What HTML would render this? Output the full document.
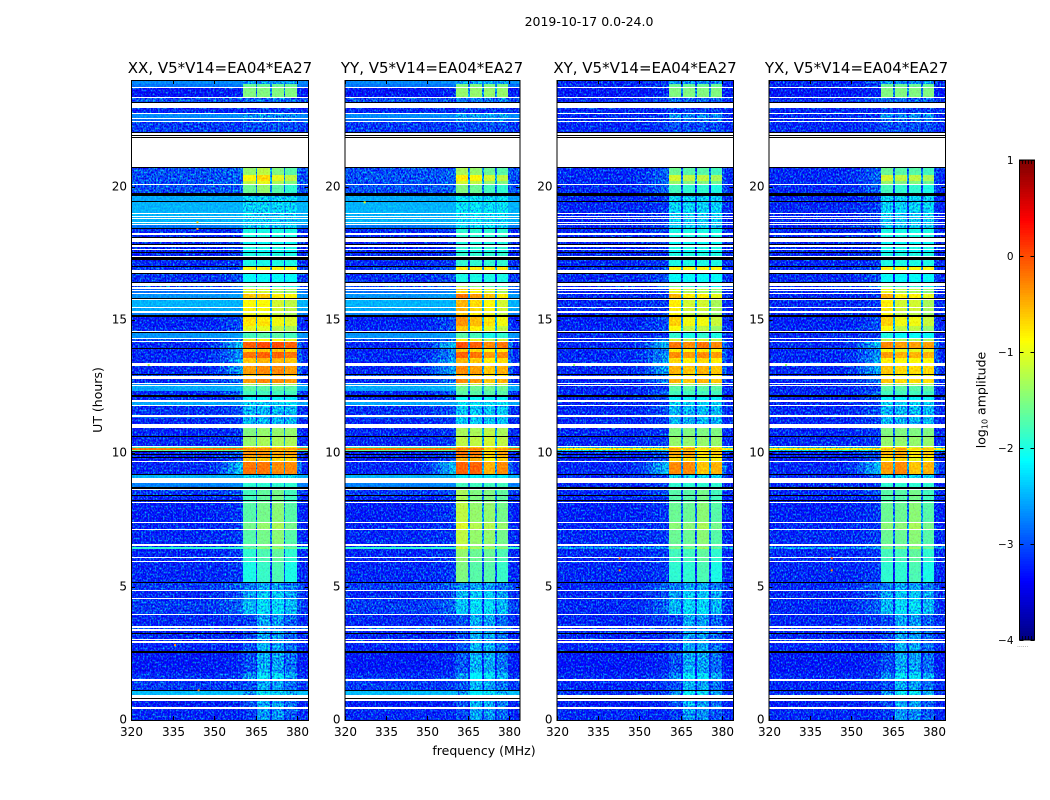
<!DOCTYPE html>
<html lang="en">
<head>
<meta charset="utf-8">
<title>2019-10-17 amplitude waterfall</title>
<style>
html,body{margin:0;padding:0;background:#fff;}
#figure{display:block;width:1050px;height:800px;}
text{font-family:"DejaVu Sans","Liberation Sans",sans-serif;fill:#000;}
</style>
</head>
<body>
<svg id="figure" xmlns="http://www.w3.org/2000/svg" width="1050" height="800" viewBox="0 0 1050 800">
  <defs id="filters"></defs>
  <text x="589" y="26" text-anchor="middle" font-size="12.5">2019-10-17 0.0-24.0</text>
  <text x="484" y="755" text-anchor="middle" font-size="12.5">frequency (MHz)</text>
  <text transform="translate(102 400) rotate(-90)" text-anchor="middle" font-size="12.5">UT (hours)</text>
  <text transform="translate(985.5 400) rotate(-90)" text-anchor="middle" font-size="12.5">log<tspan font-size="8" dy="2">10</tspan><tspan dy="-2"> amplitude</tspan></text>
  <g id="panels"></g>
  <g id="colorbar"></g>
</svg>
<script>
// Panels
const panelTitles = ["XX, V5*V14=EA04*EA27", "YY, V5*V14=EA04*EA27", "XY, V5*V14=EA04*EA27", "YX, V5*V14=EA04*EA27"];
const panelNames = ["xx", "yy", "xy", "yx"];
const backgroundDrop = [0, 0, 0.7, 0.7];

// Axis ticks
const freqTicks = [320, 335, 350, 365, 380];
const hourTicks = [0, 5, 10, 15, 20];
const colorTicks = [1, 0, -1, -2, -3, -4];

// Frequency edges of the four bright sub-bands (MHz)
const blockStart = [360.5, 365.6, 370.7, 375.7];
const blockEnd = [365.0, 370.0, 375.0, 379.8];

// Time rows with data (hours); hours with no row stay blank
const rowStart = [0,.49,.94,1.13,1.54,1.76,2.59,2.96,3.04,3.28,3.41,3.51,3.98,4.58,4.88,5.18,5.96,6.11,6.41,6.47,6.60,7.16,7.43,8.16,8.25,8.44,8.72,9.09,9.24,9.71,9.86,9.98,10.09,10.14,10.2,10.29,10.65,11.10,11.34,11.42,11.81,12.0,12.17,12.34,12.56,12.64,12.9,12.99,13.37,13.58,13.80,13.95,14.23,14.31,14.59,14.78,15.17,15.32,15.49,15.83,16.03,16.11,16.22,16.44,16.88,17.03,17.40,17.55,17.66,17.84,18.10,18.27,18.44,18.6,18.69,18.81,18.91,19.02,19.45,19.75,20.10,20.21,20.44,22.06,22.29,22.47,22.56,22.77,23.19,23.37,23.75,23.84];
const rowEnd = [.43,.73,1.09,1.47,1.76,2.51,2.90,3.00,3.24,3.34,3.45,3.92,4.54,4.84,5.14,5.91,6.06,6.41,6.47,6.54,7.13,7.39,8.12,8.21,8.40,8.61,8.87,9.17,9.66,9.83,9.94,10.05,10.14,10.2,10.24,10.61,10.95,11.31,11.38,11.78,11.93,12.11,12.34,12.53,12.60,12.79,12.96,13.26,13.58,13.80,13.91,14.16,14.27,14.51,14.78,15.13,15.28,15.45,15.75,15.99,16.07,16.18,16.28,16.75,16.98,17.25,17.51,17.61,17.75,17.94,18.18,18.40,18.56,18.65,18.78,18.87,18.99,19.43,19.66,20.07,20.21,20.44,20.71,22.28,22.43,22.53,22.73,22.94,23.34,23.71,23.84,24];
const rowBackground = [-3.2,-3.25,-2.45,-3.1,-3.15,-3.3,-3.2,-3.2,-3.2,-3.2,-3.0,-3.2,-3.1,-3.2,-3.1,-3.2,-3.2,-3.2,-1.9,-3.2,-3.2,-3.2,-3.25,-3.2,-3.2,-3.1,-2.75,-2.5,-3.2,-3.3,-3.2,-3.2,-1.6,-.2,-1.8,-3.2,-3.2,-3.2,-2.9,-3.15,-2.55,-3.2,-3.2,-2.55,-2.65,-3.2,-3.0,-3.2,-3.2,-3.2,-3.2,-3.2,-3.0,-2.65,-3.2,-3.25,-2.75,-2.55,-2.5,-2.65,-2.8,-2.9,-3.0,-3.15,-3.1,-3.2,-3.2,-3.2,-3.2,-3.2,-3.2,-3.2,-2.8,-2.5,-2.5,-2.5,-2.5,-2.5,-2.55,-3.0,-3.0,-3.0,-3.0,-3.1,-3.1,-2.85,-2.7,-3.2,-3.0,-3.3,-2.8,-2.7];
const rowRamp = [-3.2,-3.2,-2.45,-3.1,-3.1,-3.2,-3.2,-3.2,-3.2,-3.2,-3.0,-3.1,-2.9,-3.0,-2.9,-3.1,-3.1,-3.1,-1.9,-3.1,-3.1,-3.1,-3.1,-3.1,-3.1,-3.0,-2.7,-2.5,-2.5,-3.0,-3.0,-3.0,-1.6,-.2,-1.8,-3.1,-3.1,-3.1,-2.9,-3.0,-2.55,-3.0,-2.9,-2.5,-2.6,-2.8,-2.8,-2.6,-2.6,-2.7,-2.7,-2.5,-2.8,-2.6,-3.0,-3.0,-2.7,-2.55,-2.5,-2.6,-2.7,-2.8,-2.9,-3.0,-3.0,-3.1,-3.1,-3.1,-3.1,-3.1,-3.1,-3.1,-2.7,-2.5,-2.5,-2.5,-2.5,-2.5,-2.55,-2.9,-2.9,-2.9,-2.9,-3.1,-3.1,-2.85,-2.7,-3.2,-3.0,-3.2,-2.8,-2.7];
const rowBlock = [-2.85,-2.75,-2.45,-2.75,-2.45,-2.75,-2.75,-2.8,-2.8,-2.8,-2.8,-2.8,-2.5,-2.6,-2.8,-2.0,-1.9,-1.9,-1.6,-1.8,-1.7,-1.55,-1.7,-1.8,-1.8,-1.8,-1.9,-2.3,-.2,-.6,-.4,-.3,-.5,-.3,-.7,-1.4,-1.5,-2.5,-2.5,-2.5,-2.35,-2.2,-1.8,-1.7,-1.3,-.4,-.7,-.4,-.6,-.2,-.7,-.1,-1.0,-1.8,-.9,-.65,-.9,-.8,-.8,-.5,-1,-.9,-1.6,-2.1,-.9,-2.0,-2.0,-2.1,-2.0,-2.1,-2.0,-2.0,-2.4,-2.4,-2.4,-2.4,-2.4,-2.35,-2.35,-1.6,-1.2,-.9,-1.4,-3.0,-3.0,-2.85,-2.7,-3.1,-2.9,-1.5,-1.6,-2.7];

// Very low amplitude rows that read as black lines (hours)
const blackStart = [.79,1.09,2.51,3.24,5.14,8.21,8.40,8.66,9.17,9.83,9.94,10.05,10.61,12.11,12.96,13.91,14.51,15.13,15.79,16.39,16.75,16.98,17.25,17.51,17.80,18.06,18.40,19.43,19.66,20.71,21.81,21.90,22.00,23.13];
const blackEnd = [.84,1.13,2.59,3.28,5.18,8.25,8.44,8.72,9.24,9.86,9.98,10.09,10.65,12.17,12.99,13.95,14.55,15.17,15.83,16.44,16.77,17.03,17.35,17.55,17.84,18.10,18.44,19.45,19.75,20.75,21.85,21.94,22.04,23.19];

// Per-polarisation sub-band level offsets, by time zone
const zoneStart = [0, 3.95, 5.18, 8.7, 9.2, 10.25, 11, 12.6, 14.55, 16.4, 19.7, 20.7];
const blockOffsetXX = [[-.25,.2,.15,-.1],[0,.2,.2,0],[0,.15,.25,0],[0,0,0,0],[0,0,-.1,-.1],[0,.1,.1,.1],[0,0,0,0],[0,.1,.1,0],[-.1,-.1,-.3,-.4],[0,0,0,0],[0,.2,-.1,-.3],[0,0,0,0]];
const blockOffsetYY = [[-.2,.25,.2,-.05],[.1,.2,.2,0],[.5,.3,.3,.15],[.1,.1,.1,.1],[.1,.1,-.3,-.1],[.2,.2,.3,.2],[.1,.1,.1,.1],[.1,0,-.2,-.1],[.3,.1,-.1,-.3],[.1,.1,.1,.1],[.1,0,-.2,-.3],[.1,.1,.1,.1]];
const blockOffsetXY = [[-.25,.2,.15,-.1],[0,.2,.2,0],[.1,.1,.25,0],[0,0,0,0],[-.1,-.1,-.4,-.3],[0,0,0,0],[0,0,0,0],[-.1,-.2,-.1,-.2],[0,-.3,-.3,-.5],[0,0,0,0],[-.2,-.3,-.3,-.4],[0,0,0,0]];
const blockOffsetYX = [[-.25,.2,.15,-.1],[0,.2,.2,0],[.1,.1,.25,0],[0,0,0,0],[-.2,-.1,-.4,-.3],[0,0,0,0],[0,0,0,0],[-.2,-.3,-.3,-.3],[0,-.3,-.3,-.5],[0,0,0,0],[-.2,-.3,-.3,-.4],[0,0,0,0]];
const blockOffsets = [blockOffsetXX, blockOffsetYY, blockOffsetXY, blockOffsetYX];

// Isolated hot pixels
const hotPanel = [0, 0, 0, 0, 0, 1, 2, 2, 3, 3, 2, 3];
const hotFreq = [343.6, 343.6, 335.5, 344, 326, 327, 342.5, 342.5, 342.5, 342.5, 326, 326];
const hotHour = [18.45, 18.7, 2.85, 1.15, 13.35, 19.45, 6.1, 5.65, 6.1, 5.65, 13.35, 13.35];
const hotLevel = [-.3, -.6, -.3, -.2, -1.2, -1, -.1, -.3, -.1, -.3, -1.4, -1.4];

// Axis geometry
const panelLeft = [131, 344.5, 556.5, 768.5];
const panelRight = [308.5, 520, 733.5, 945.5];
const titleCenter = [220, 432, 645, 856.5];
const plotTop = 80, plotBottom = 720;
const freqMin = 320, freqMax = 384, hourMax = 24;
const barLeft = 1019.5, barRight = 1034.5, barTop = 160, barBottom = 640, levelMin = -4, levelMax = 1;

const SVG_NS = "http://www.w3.org/2000/svg";
function make(tag, parent) {
  const el = document.createElementNS(SVG_NS, tag);
  parent.appendChild(el);
  return el;
}
function xScale(panel, f) {
  return panelLeft[panel] + (f - freqMin) / (freqMax - freqMin) * (panelRight[panel] - panelLeft[panel]);
}
function yScale(h) {
  return plotBottom - h / hourMax * (plotBottom - plotTop);
}
function levelScale(v) {
  return barBottom - (v - levelMin) / (levelMax - levelMin) * (barBottom - barTop);
}
function jet(v) {
  const t = Math.max(0, Math.min(1, (v - levelMin) / (levelMax - levelMin)));
  const c = x => Math.round(255 * Math.max(0, Math.min(1, x)));
  return "rgb(" + c(Math.min(4 * t - 1.5, 4.5 - 4 * t)) + "," + c(Math.min(4 * t - 0.5, 3.5 - 4 * t)) + "," + c(Math.min(4 * t + 0.5, 2.5 - 4 * t)) + ")";
}
function zoneIndex(t) {
  let z = 0;
  zoneStart.forEach((s, i) => { if (t >= s) z = i; });
  return z;
}
function drawCell(group, panel, f0, f1, t0, t1, level) {
  const cell = make("rect", group);
  const x0 = Math.round(xScale(panel, f0)), x1 = Math.round(xScale(panel, f1));
  const y0 = Math.round(yScale(t1)), y1 = Math.round(yScale(t0));
  cell.setAttribute("x", x0);
  cell.setAttribute("y", y0);
  cell.setAttribute("width", Math.max(1, x1 - x0));
  cell.setAttribute("height", Math.max(1, y1 - y0));
  cell.setAttribute("fill", jet(level));
  cell.setAttribute("shape-rendering", "crispEdges");
  
  
}
function addSpeckle(id, seed, strength) {
  const filter = make("filter", document.getElementById("filters"));
  filter.setAttribute("id", id);
  filter.setAttribute("x", "0");
  filter.setAttribute("y", "0");
  filter.setAttribute("width", "1");
  filter.setAttribute("height", "1");
  filter.setAttribute("color-interpolation-filters", "sRGB");
  const turb = make("feTurbulence", filter);
  turb.setAttribute("type", "fractalNoise");
  turb.setAttribute("baseFrequency", "0.6 0.5");
  turb.setAttribute("numOctaves", "2");
  turb.setAttribute("seed", String(seed));
  turb.setAttribute("result", "noise");
  const matrix = make("feColorMatrix", filter);
  matrix.setAttribute("in", "noise");
  matrix.setAttribute("type", "matrix");
  matrix.setAttribute("values", "0.2 0 0 0 0.15  0 1 0 0 -0.25  0 0 0.5 0 0  0 0 0 0 1");
  matrix.setAttribute("result", "tint");
  const mix = make("feComposite", filter);
  mix.setAttribute("in", "SourceGraphic");
  mix.setAttribute("in2", "tint");
  mix.setAttribute("operator", "arithmetic");
  mix.setAttribute("k1", "0");
  mix.setAttribute("k2", "1");
  mix.setAttribute("k3", String(strength));
  mix.setAttribute("k4", String(-strength / 4));
  mix.setAttribute("result", "mixed");
  const clip = make("feComposite", filter);
  clip.setAttribute("in", "mixed");
  clip.setAttribute("in2", "SourceAlpha");
  clip.setAttribute("operator", "in");
}

const panelsRoot = document.getElementById("panels");

panelTitles.forEach((title, p) => {
  addSpeckle("speckle" + p, 3 + p * 5, 1.9);
  addSpeckle("smooth" + p, 4 + p * 5, 0.5);

  const panel = make("g", panelsRoot);
  
  

  const heat = make("g", panel);
  heat.setAttribute("filter", "url(#speckle" + p + ")");
  
  

  const heatSmooth = make("g", panel);
  heatSmooth.setAttribute("filter", "url(#smooth" + p + ")");
  
  

  rowStart.forEach((t0, r) => {
    const t1 = rowEnd[r];
    const drop = backgroundDrop[p];
    const raised = rowBackground[r] > -2.95;
    const bgGroup = raised && drop === 0 ? heatSmooth : heat;
    const bg = Math.max(Math.min(rowBackground[r], -3.2), rowBackground[r] - drop);
    const ramp = raised ? Math.max(-3.1, rowRamp[r] - drop) : rowRamp[r];
    const along = share => bg + (ramp - bg) * share;
    const offs = blockOffsets[p][zoneIndex(t0)];
    const block = i => rowBlock[r] > -2.95 ? rowBlock[r] + offs[i] : rowBlock[r];
    drawCell(bgGroup, p, freqMin, 348, t0, t1, bg);
    drawCell(bgGroup, p, 348, 352, t0, t1, along(0.15));
    drawCell(bgGroup, p, 352, 355, t0, t1, along(0.4));
    drawCell(bgGroup, p, 355, 358, t0, t1, along(0.7));
    drawCell(bgGroup, p, 358, blockStart[0], t0, t1, ramp);
    blockStart.forEach((fs, i) => {
      const level = block(i);
      drawCell(level > -2.25 ? heatSmooth : heat, p, fs, blockEnd[i], t0, t1, level);
      if (i < blockStart.length - 1) {
        drawCell(bgGroup, p, blockEnd[i], blockStart[i + 1], t0, t1, Math.max(bg, Math.min(-2.6, level - 1.3)));
      }
    });
    drawCell(bgGroup, p, blockEnd[3], 381.5, t0, t1, along(0.5));
    drawCell(bgGroup, p, 381.5, freqMax, t0, t1, bg);
  });

  const lines = make("g", panel);
  
  
  blackStart.forEach((t0, i) => {
    const line = make("rect", lines);
    const y0 = Math.round(yScale(blackEnd[i]));
    const y1 = Math.round(yScale(t0));
    line.setAttribute("x", panelLeft[p]);
    line.setAttribute("y", y0);
    line.setAttribute("width", panelRight[p] - panelLeft[p]);
    line.setAttribute("height", Math.max(1, y1 - y0));
    line.setAttribute("fill", "#000");
    line.setAttribute("shape-rendering", "crispEdges");
    
    
  });

  hotPanel.forEach((hp, i) => {
    if (hp !== p) return;
    const spot = make("rect", panel);
    spot.setAttribute("x", xScale(p, hotFreq[i]));
    spot.setAttribute("y", yScale(hotHour[i]));
    spot.setAttribute("width", 2);
    spot.setAttribute("height", 2);
    spot.setAttribute("fill", jet(hotLevel[i]));
    
    
  });

  const frame = make("rect", panel);
  frame.setAttribute("x", panelLeft[p] + 0.5);
  frame.setAttribute("y", plotTop + 0.5);
  frame.setAttribute("width", panelRight[p] - panelLeft[p] - 0.5);
  frame.setAttribute("height", plotBottom - plotTop);
  frame.setAttribute("fill", "none");
  frame.setAttribute("stroke", "#000");
  frame.setAttribute("stroke-width", "1");
  
  

  const titleEl = make("text", panel);
  titleEl.textContent = title;
  titleEl.setAttribute("x", titleCenter[p]);
  titleEl.setAttribute("y", 73);
  titleEl.setAttribute("text-anchor", "middle");
  titleEl.setAttribute("font-size", "15");
  
  

  freqTicks.forEach(f => {
    const x = Math.round(xScale(p, f)) + 0.5;
    [[plotBottom, plotBottom - 4], [plotTop, plotTop + 4]].forEach(pair => {
      const tick = make("line", panel);
      tick.setAttribute("x1", x);
      tick.setAttribute("x2", x);
      tick.setAttribute("y1", pair[0]);
      tick.setAttribute("y2", pair[1]);
      tick.setAttribute("stroke", "#000");
      
      
    });
    const label = make("text", panel);
    label.textContent = String(f);
    label.setAttribute("x", x);
    label.setAttribute("y", 736);
    label.setAttribute("text-anchor", "middle");
    label.setAttribute("font-size", "12");
    
    
  });

  hourTicks.forEach(h => {
    const y = Math.round(yScale(h)) + 0.5;
    [[panelLeft[p], panelLeft[p] + 4], [panelRight[p], panelRight[p] - 4]].forEach(pair => {
      const tick = make("line", panel);
      tick.setAttribute("x1", pair[0]);
      tick.setAttribute("x2", pair[1]);
      tick.setAttribute("y1", y);
      tick.setAttribute("y2", y);
      tick.setAttribute("stroke", "#000");
      
      
    });
    const label = make("text", panel);
    label.textContent = String(h);
    label.setAttribute("x", panelLeft[p] - 4);
    label.setAttribute("y", y + 3);
    label.setAttribute("text-anchor", "end");
    label.setAttribute("font-size", "12");
    
    
  });
});

// Colorbar
const bar = document.getElementById("colorbar");
for (let v = levelMin; v < levelMax - 0.001; v += 0.025) {
  const swatch = make("rect", bar);
  const y0 = Math.floor(levelScale(v + 0.025));
  const y1 = Math.ceil(levelScale(v));
  swatch.setAttribute("x", barLeft);
  swatch.setAttribute("y", y0);
  swatch.setAttribute("width", barRight - barLeft);
  swatch.setAttribute("height", y1 - y0);
  swatch.setAttribute("fill", jet(v + 0.0125));
  
  
}
const barFrame = make("rect", bar);
barFrame.setAttribute("x", barLeft);
barFrame.setAttribute("y", barTop);
barFrame.setAttribute("width", barRight - barLeft);
barFrame.setAttribute("height", barBottom - barTop);
barFrame.setAttribute("fill", "none");
barFrame.setAttribute("stroke", "#000");



colorTicks.forEach(v => {
  const y = Math.round(levelScale(v)) + 0.5;
  [[barLeft, barLeft + 4], [barRight, barRight - 4]].forEach(pair => {
    const tick = make("line", bar);
    tick.setAttribute("x1", pair[0]);
    tick.setAttribute("x2", pair[1]);
    tick.setAttribute("y1", y);
    tick.setAttribute("y2", y);
    tick.setAttribute("stroke", "#000");
    
    
  });
  const label = make("text", bar);
  label.textContent = v < 0 ? "\u2212" + Math.abs(v) : String(v);
  label.setAttribute("x", barLeft - 6);
  label.setAttribute("y", y + 3.5);
  label.setAttribute("text-anchor", "end");
  label.setAttribute("font-size", "10.5");
  
  
});
for (let x = barLeft + 3; x < barRight; x += 3) {
  [[barTop, barTop + 4], [barBottom, barBottom - 4]].forEach(pair => {
    const tick = make("line", bar);
    tick.setAttribute("x1", x);
    tick.setAttribute("x2", x);
    tick.setAttribute("y1", pair[0]);
    tick.setAttribute("y2", pair[1]);
    tick.setAttribute("stroke", "#000");
    tick.setAttribute("stroke-width", "0.8");
    
    
  });
}
const dots = make("text", bar);
dots.textContent = "......";
dots.setAttribute("x", 1017);
dots.setAttribute("y", 647);
dots.setAttribute("font-size", "6");
dots.setAttribute("style", "fill:#777");


</script>
</body>
</html>
